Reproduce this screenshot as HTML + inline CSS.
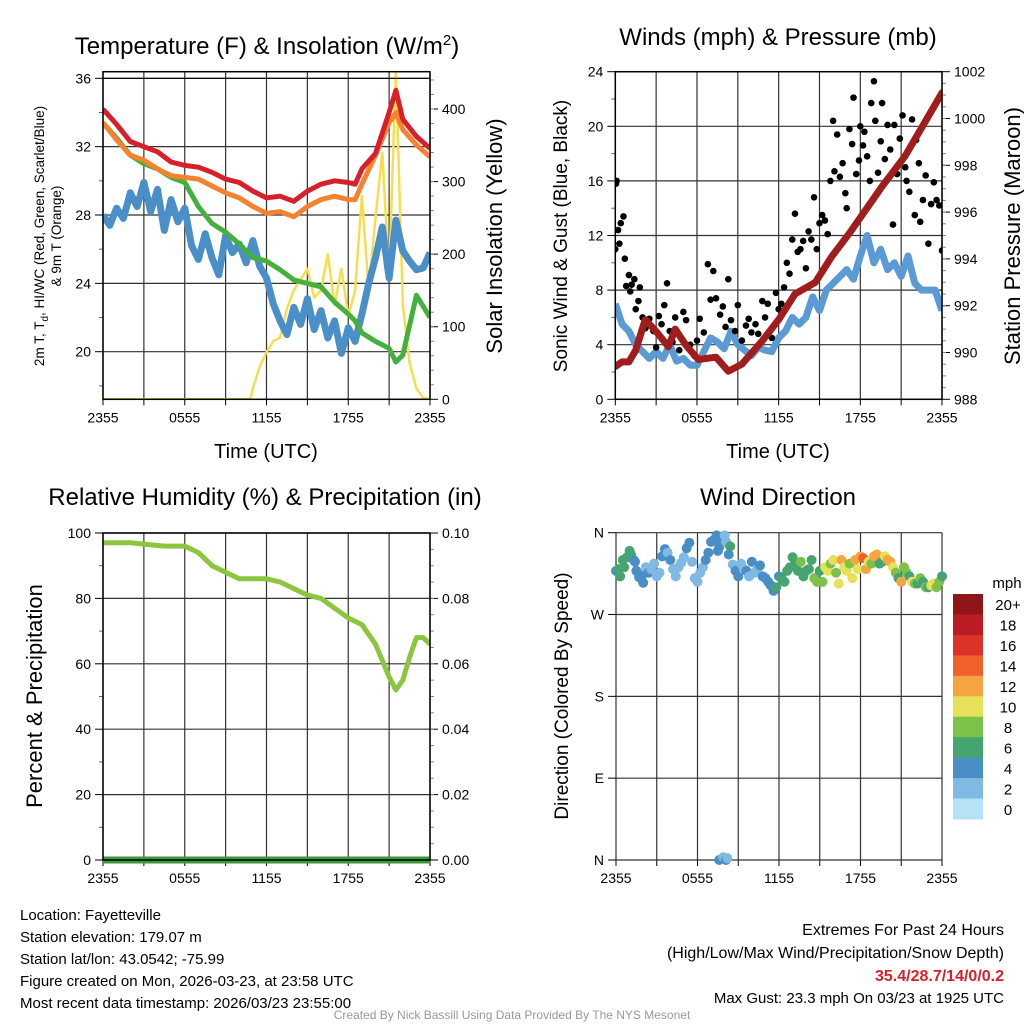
<!DOCTYPE html>
<html><head><meta charset="utf-8"><style>
html,body{margin:0;padding:0;background:#fff;}
svg{display:block;font-family:"Liberation Sans",Arial,sans-serif;}
</style></head><body>
<svg id="fig" width="1024" height="1024" viewBox="0 0 1024 1024"></svg>
<script>
// ---------- DATA ----------
const xTickLabels = ["2355","0555","1155","1755","2355"];
// Panel 1: temperature (F), hours since 2355
const tempHours = [0,1,2,3,4,5,6,7,8,9,10,11,12,13,14,15,16,17,18,18.5,19,20,21,21.5,22,23,24];
const redT = [34.2,33.3,32.3,32.0,31.7,31.1,30.9,30.8,30.5,30.1,29.9,29.4,29.0,29.1,28.8,29.4,29.8,30.0,29.9,29.8,30.7,31.6,34.0,35.3,33.6,32.6,31.9];
const orangeT = [33.4,32.4,31.5,31.2,30.7,30.3,30.2,30.1,29.7,29.3,29.0,28.5,28.1,28.2,27.9,28.5,28.9,29.1,28.9,28.9,29.8,31.5,33.4,34.0,33.0,32.1,31.4];
const greenT = [33.4,32.5,31.5,31.0,30.7,30.2,29.9,28.5,27.5,27.0,26.3,25.5,25.3,24.8,24.2,24.0,23.8,22.9,22.2,21.8,21.1,20.6,20.2,19.4,19.8,23.3,22.0];
const dewHours = [0,0.5,1,1.5,2,2.5,3,3.5,4,4.5,5,5.5,6,6.5,7,7.5,8,8.5,9,9.5,10,10.5,11,11.5,12,12.5,13,13.5,14,14.5,15,15.5,16,16.5,17,17.5,18,18.5,19,19.5,20,20.5,21,21.5,22,22.5,23,23.5,24];
const blueT = [28.0,27.4,28.4,27.8,29.3,28.5,29.9,28.2,29.5,27.1,28.9,27.6,28.4,26.2,25.4,26.9,25.5,24.5,26.8,25.8,26.3,25.2,26.5,25.0,24.3,22.8,21.8,21.0,22.6,21.6,23.1,21.3,22.4,20.8,21.8,19.9,21.4,20.6,22.2,24.0,25.5,27.3,24.3,27.7,25.9,25.3,24.8,24.9,25.8];
const solarHours = [0,10.8,11,11.5,12,12.5,13,13.5,14,14.5,15,15.5,16,16.5,17,17.5,18,18.5,19,19.5,20,20.5,21,21.5,22,22.5,23,23.5,24];
const solar = [0,0,15,45,65,80,85,125,150,165,180,140,150,200,130,180,115,150,280,150,250,340,170,455,130,50,15,2,0];
// Panel 2: winds & pressure
const windHours = dewHours;
const sustained = [7.0,5.5,5.0,4.0,3.5,3.0,3.5,3.0,4.0,2.8,3.0,2.5,2.5,3.5,4.5,4.2,3.7,5.0,4.0,3.6,3.2,3.8,3.6,3.5,4.5,5.0,6.0,5.5,6.0,7.5,6.5,8.0,8.5,9.0,9.5,8.8,10.5,12.0,10.0,11.0,9.5,10.0,9.0,10.5,8.5,8.0,8.0,8.0,6.5];
const gustHours = [0,0.05,0.1,0.2,0.3,0.4,0.6,0.7,0.8,1.0,1.1,1.2,1.4,1.5,1.7,1.8,2.0,2.2,2.5,2.8,3.0,3.2,3.4,3.6,3.8,4.0,4.2,4.4,4.7,5.0,5.2,5.5,5.8,6.0,6.2,6.5,6.8,7.0,7.2,7.4,7.7,7.9,8.1,8.3,8.5,8.8,9.0,9.3,9.6,9.8,10.0,10.3,10.5,10.8,11.0,11.2,11.5,11.8,12.0,12.2,12.4,12.6,12.8,13.0,13.2,13.4,13.6,13.8,14.0,14.2,14.4,14.6,14.8,15.0,15.2,15.4,15.6,15.8,16.0,16.1,16.3,16.5,16.7,16.9,17.0,17.2,17.4,17.5,17.7,17.9,18.0,18.2,18.3,18.5,18.7,18.8,19.0,19.1,19.3,19.5,19.6,19.8,20.0,20.2,20.4,20.5,20.7,20.9,21.1,21.3,21.4,21.6,21.8,22.0,22.1,22.3,22.4,22.6,22.8,23.0,23.2,23.4,23.6,23.8,24.0];
const gusts = [11,15.8,16,12.4,11.4,12.9,13.4,10.3,8.3,9.1,7.9,8.4,8.8,6.6,7.2,8.2,6.0,5.2,5.9,5.0,3.8,6.1,5.5,6.9,8.5,5.0,4.2,6.0,3.6,6.4,5.8,4.0,3.2,4.3,5.9,4.9,9.9,7.3,9.4,7.4,6.2,6.8,5.3,8.8,5.8,5.0,6.9,4.3,5.4,5.9,4.9,5.5,4.8,7.2,6.0,7.0,4.5,7.8,6.6,7.0,8.2,10.0,9.2,11.7,13.6,10.8,11.0,11.6,9.6,12.3,11.7,14.8,11.0,12.9,13.5,13.1,12.1,16.0,20.4,16.7,19.4,16.3,17.3,15.1,14.0,19.8,18.7,22.1,16.5,17.5,20.0,18.6,19.6,17.8,16.0,21.7,23.3,20.4,16.6,18.9,21.7,17.6,20.1,18.3,12.8,20.1,16.5,19.1,20.8,17.0,16.0,15.2,20.5,13.5,19.0,17.3,13.0,14.6,16.4,11.4,14.3,15.9,14.6,14.2,10.9];
const presHours = [0,0.5,1,1.5,2.2,3.0,3.9,4.4,5.2,6.1,7.4,8.3,9.3,10.8,12,13.2,14.7,15.9,17.2,18.4,19.6,21.3,22.8,24];
const pressure = [989.4,989.6,989.6,990.1,991.4,990.9,990.25,991.0,990.3,989.7,989.8,989.2,989.5,990.5,991.4,992.5,993.0,994.1,995.1,996.1,997.1,998.4,999.9,1001.1];
// Panel 3: RH & precip
const rhHours = [0,2,4.5,6,7,8,9,10,11,12,13,14,15,16,17,18,19,20,20.5,21,21.5,22,22.5,23,23.5,24];
const rh = [97,97,96,96,94,90,88,86,86,86,85,83,81,80,77,74,72,66,61,56,52,55,62,68,68,66];
const precipHours = [0,24];
const precip = [0,0];
// Panel 4: wind direction (deg) and speed (mph)
const dirHours = [0,0.2,0.3,0.5,0.6,0.8,1.0,1.1,1.3,1.4,1.5,1.7,1.9,2.0,2.2,2.4,2.6,2.8,3.0,3.2,3.4,3.6,3.8,4.0,4.2,4.4,4.6,4.8,5.0,5.2,5.4,5.6,5.8,6.0,6.2,6.4,6.6,6.8,7.0,7.2,7.4,7.5,7.6,7.8,8.0,8.1,8.3,8.4,8.6,8.8,9.0,9.2,9.4,9.6,9.8,10.0,10.2,10.4,10.6,10.8,11.0,11.2,11.4,11.6,11.8,12.0,12.2,12.4,12.6,12.8,13.0,13.2,13.4,13.6,13.8,14.0,14.2,14.4,14.6,14.8,15.0,15.2,15.4,15.6,15.8,16.0,16.2,16.4,16.6,16.8,17.0,17.2,17.4,17.6,17.8,18.0,18.2,18.4,18.6,18.8,19.0,19.2,19.4,19.6,19.8,20.0,20.2,20.4,20.6,20.8,21.0,21.2,21.4,21.6,21.8,22.0,22.2,22.4,22.6,22.8,23.0,23.2,23.4,23.6,23.8,24.0,7.6,7.9,8.1,8.2];
const dirDeg = [318,320,312,330,322,333,340,336,330,328,318,311,313,305,322,316,320,326,312,316,334,342,338,330,320,312,322,327,333,343,349,328,310,306,316,322,330,338,350,352,357,340,344,350,357,350,336,345,325,318,312,326,320,318,312,328,316,320,324,312,310,306,302,296,300,312,310,306,318,322,333,326,318,328,312,318,320,330,310,306,318,306,322,318,326,330,316,304,330,322,318,326,310,330,320,334,332,320,328,326,334,336,326,328,334,330,328,322,316,310,306,322,316,312,306,304,304,310,306,300,300,302,304,300,306,312,0,3,0,2];
const dirSpeed = [5,7,7,7,7,6,7,7,4,4,4,4,4,4,3,4,3,3,3,2,4,4,3,4,2,2,2,2,2,4,4,2,2,2,2,3,4,4,4,4,4,4,4,4,3,2,4,6,3,4,4,2,3,4,3,4,2,3,4,4,4,4,4,4,6,5,6,6,6,6,6,6,6,8,6,6,6,6,8,8,6,9,10,10,8,10,8,10,12,10,10,8,10,12,10,12,14,12,10,8,12,12,6,6,10,12,12,10,8,6,12,8,8,6,10,8,6,8,6,8,6,10,10,8,8,6,4,2,4,2];
const cbarLabels = ["20+","18","16","14","12","10","8","6","4","2","0"];
const cbarColors = ["#8f1519","#bb1c24","#dd3228","#f0602b","#f5a442","#e6e159","#7cc24a","#46a471","#4a8ec6","#80b9e4","#b5e2f6"];

// ---------- DRAWING ----------
const NS="http://www.w3.org/2000/svg";
const svg=document.getElementById('fig');
function mk(tag,attrs,parent){const e=document.createElementNS(NS,tag);for(const k in attrs)e.setAttribute(k,attrs[k]);(parent||svg).appendChild(e);return e;}
function txt(s,x,y,size,anchor,parent,extra){const e=mk('text',Object.assign({x:x,y:y,'font-size':size,'text-anchor':anchor||'middle',fill:'#000'},extra||{}),parent);e.textContent=s;return e;}
function lin(d0,d1,r0,r1){return v=>r0+(v-d0)*(r1-r0)/(d1-d0);}
function pathFrom(xs,ys,sx,sy){return xs.map((h,i)=>(i?'L':'M')+sx(h).toFixed(1)+','+sy(ys[i]).toFixed(1)).join(' ');}

function frame(g,L,R,T,B,sx){
  for(let h=0;h<=24;h+=3){
    const l=mk('line',{x1:sx(h),x2:sx(h),y1:T,y2:B,stroke:'#333','stroke-width':1.2},g);
    
    
    mk('line',{x1:sx(h),x2:sx(h),y1:B,y2:B+6,stroke:'#000','stroke-width':1},g);
  }
  xTickLabels.forEach((s,i)=>{
    const t=txt(s,sx(i*6),B+23,14,'middle',g);
    
    
  });
}
function leftAxis(g,L,R,ticks,sy,labels,minor,grid){
  ticks.forEach((v,i)=>{
    const y=sy(v);
    if(grid)mk('line',{x1:L,x2:R,y1:y,y2:y,stroke:'#333','stroke-width':1.2},g);
    mk('line',{x1:L-8,x2:L,y1:y,y2:y,stroke:'#000','stroke-width':1},g);
    const t=txt(labels[i],L-12,y+5,14,'end',g);
    
    
  });
  (minor||[]).forEach(v=>{const y=sy(v);mk('line',{x1:L-4,x2:L,y1:y,y2:y,stroke:'#666','stroke-width':1},g);});
}
function rightAxis(g,R,ticks,sy,labels,minor){
  ticks.forEach((v,i)=>{
    const y=sy(v);
    mk('line',{x1:R,x2:R+8,y1:y,y2:y,stroke:'#000','stroke-width':1},g);
    const t=txt(labels[i],R+12,y+5,14,'start',g);
    
    
  });
  (minor||[]).forEach(v=>{const y=sy(v);mk('line',{x1:R,x2:R+4,y1:y,y2:y,stroke:'#888','stroke-width':1},g);});
}
function rng(a,b,s){const r=[];for(let v=a;v<=b+1e-9;v+=s)r.push(+v.toFixed(3));return r;}

// ===== Panel 1 =====
{
  const g=mk('g',{});
  const L=103,R=430,T=71.7,B=399.3;
  const sx=lin(0,24,L,R), sy=lin(20,36,351.7,78.3), sr=lin(0,400,399.3,109);
  const clip=mk('clipPath',{id:'c1'},g);mk('rect',{x:L,y:T,width:R-L,height:B-T},clip);
  frame(g,L,R,T,B,sx);
  leftAxis(g,L,R,[20,24,28,32,36],sy,["20","24","28","32","36"],[18,22,26,30,34],true);
  rightAxis(g,R,[0,100,200,300,400],sr,["0","100","200","300","400"],rng(20,440,20));
  const d=mk('g',{'clip-path':'url(#c1)'},g);
  const ys=mk('path',{d:pathFrom(solarHours,solar,sx,sr),fill:'none',stroke:'#f7de4f','stroke-width':2.5,'stroke-linejoin':'round'},d);
  
  const bl=mk('path',{d:pathFrom(dewHours,blueT,sx,sy),fill:'none',stroke:'#4b8fc8','stroke-width':7,'stroke-linejoin':'round'},d);
  
  const gr=mk('path',{d:pathFrom(tempHours,greenT,sx,sy),fill:'none',stroke:'#45b03c','stroke-width':5,'stroke-linejoin':'round'},d);
  
  const or=mk('path',{d:pathFrom(tempHours,orangeT,sx,sy),fill:'none',stroke:'#f5822f','stroke-width':5,'stroke-linejoin':'round'},d);
  
  const rd=mk('path',{d:pathFrom(tempHours,redT,sx,sy),fill:'none',stroke:'#d7202a','stroke-width':5,'stroke-linejoin':'round'},d);
  
  mk('rect',{x:L,y:T,width:R-L,height:B-T,fill:'none',stroke:'#000','stroke-width':1.5},g);
  mk('line',{x1:L,x2:R,y1:78.3,y2:78.3,stroke:'#000','stroke-width':1.2},g);
  const ti=txt('',267,54,24,'middle',g);ti.innerHTML='Temperature (F) &amp; Insolation (W/m<tspan dy="-9" font-size="15">2</tspan><tspan dy="9">)</tspan>';
  
  const xt=txt('Time (UTC)',266,458,20,'middle',g);
  const yl=mk('text',{transform:'translate(44,236) rotate(-90)','font-size':13.5,'text-anchor':'middle'},g);
  yl.innerHTML='2m T, T<tspan dy="4" font-size="10">d</tspan><tspan dy="-4">, HI/WC (Red, Green, Scarlet/Blue)</tspan>';
  
  const yl2=txt('& 9m T (Orange)',0,0,13.5,'middle',g,{transform:'translate(61,236) rotate(-90)'});
  
  const yr=txt('Solar Insolation (Yellow)',0,0,22,'middle',g,{transform:'translate(502,236) rotate(-90)'});
  
}

// ===== Panel 2 =====
{
  const g=mk('g',{});
  const L=615.3,R=942,T=71.7,B=399.3;
  const sx=lin(0,24,L,R), sy=lin(0,24,B,T), sp=lin(988,1002,B,T);
  const clip=mk('clipPath',{id:'c2'},g);mk('rect',{x:L,y:T,width:R-L,height:B-T},clip);
  frame(g,L,R,T,B,sx);
  leftAxis(g,L,R,[0,4,8,12,16,20,24],sy,["0","4","8","12","16","20","24"],[2,6,10,14,18,22],true);
  rightAxis(g,R,rng(988,1002,2),sp,["988","990","992","994","996","998","1000","1002"],rng(988.5,1001.5,0.5));
  const d=mk('g',{'clip-path':'url(#c2)'},g);
  const bl=mk('path',{d:pathFrom(windHours,sustained,sx,sy),fill:'none',stroke:'#5b9bd5','stroke-width':7,'stroke-linejoin':'round'},d);
  
  gustHours.forEach((h,i)=>{
    const c=mk('circle',{cx:sx(h),cy:sy(gusts[i]),r:3.3,fill:'#000'},d);
    
    
  });
  const pr=mk('path',{d:pathFrom(presHours,pressure,sx,sp),fill:'none',stroke:'#a11d1d','stroke-width':7,'stroke-linejoin':'round','stroke-linecap':'round'},d);
  
  mk('rect',{x:L,y:T,width:R-L,height:B-T,fill:'none',stroke:'#000','stroke-width':1.5},g);
  const ti=txt('Winds (mph) & Pressure (mb)',778,45,24,'middle',g);
  const xt=txt('Time (UTC)',778,458,20,'middle',g);
  const yl=txt('Sonic Wind & Gust (Blue, Black)',0,0,19,'middle',g,{transform:'translate(567,236) rotate(-90)'});
  
  const yr=txt('Station Pressure (Maroon)',0,0,22,'middle',g,{transform:'translate(1020,236) rotate(-90)'});
  
}

// ===== Panel 3 =====
{
  const g=mk('g',{});
  const L=103,R=430,T=533,B=860;
  const sx=lin(0,24,L,R), sy=lin(0,100,B,T), spp=lin(0,0.1,B,T);
  const clip=mk('clipPath',{id:'c3'},g);mk('rect',{x:L,y:T-4,width:R-L,height:B-T+8},clip);
  frame(g,L,R,T,B,sx);
  leftAxis(g,L,R,[0,20,40,60,80,100],sy,["0","20","40","60","80","100"],[10,30,50,70,90],true);
  rightAxis(g,R,[0,0.02,0.04,0.06,0.08,0.1],spp,["0.00","0.02","0.04","0.06","0.08","0.10"],rng(0.005,0.095,0.005));
  const d=mk('g',{'clip-path':'url(#c3)'},g);
  const pp=mk('path',{d:pathFrom(precipHours,precip,sx,spp),fill:'none',stroke:'#3a9a3a','stroke-width':7},d);
  
  const rl=mk('path',{d:pathFrom(rhHours,rh,sx,sy),fill:'none',stroke:'#8cc63f','stroke-width':5,'stroke-linejoin':'round'},d);
  
  mk('rect',{x:L,y:T,width:R-L,height:B-T,fill:'none',stroke:'#000','stroke-width':1.5},g);
  const ti=txt('Relative Humidity (%) & Precipitation (in)',265,505,24,'middle',g);
  const yl=txt('Percent & Precipitation',0,0,22,'middle',g,{transform:'translate(42,696) rotate(-90)'});
  
}

// ===== Panel 4 =====
{
  const g=mk('g',{});
  const L=616,R=942,T=532.7,B=860;
  const sx=lin(0,24,L,R), sy=lin(0,360,B,T);
  frame(g,L,R,T,B,sx);
  leftAxis(g,L,R,[0,90,180,270,360],sy,["N","E","S","W","N"],[],true);
  const colorFor=s=>{let idx=Math.min(10,Math.floor(s/2));return cbarColors[10-idx];};
  dirHours.forEach((h,i)=>{
    const c=mk('circle',{cx:sx(h),cy:sy(dirDeg[i]),r:5,fill:colorFor(dirSpeed[i])},g);
    
    
  });
  const ti=txt('Wind Direction',778,505,24,'middle',g);
  const yl=txt('Direction (Colored By Speed)',0,0,19,'middle',g,{transform:'translate(568,696) rotate(-90)'});
  
  const cb=mk('g',{},g);
  const cy0=594, ch=(819-594)/11;
  cbarColors.forEach((c,i)=>{
    const r=mk('rect',{x:953,y:cy0+i*ch,width:30,height:ch+0.5,fill:c},cb);
    
    const t=txt(cbarLabels[i],1008,cy0+i*ch+ch/2+6,15,'middle',cb);
    
  });
  const u=txt('mph',1007,588,15,'middle',cb);
}

// ===== Footer text =====
{
  const g=mk('g',{'font-size':15});
  ["Location: Fayetteville","Station elevation: 179.07 m","Station lat/lon: 43.0542; -75.99","Figure created on Mon, 2026-03-23, at 23:58 UTC","Most recent data timestamp: 2026/03/23 23:55:00"].forEach((s,i)=>{
    const t=txt(s,20,920+i*22,15,'start',g);
  });
  const e1=txt('Extremes For Past 24 Hours',1004,935,16,'end');
  const e2=txt('(High/Low/Max Wind/Precipitation/Snow Depth)',1004,958,16,'end');
  const e3=txt('35.4/28.7/14/0/0.2',1004,981,16,'end',null,{fill:'#d7202a','font-weight':'bold'});
  const e4=txt('Max Gust: 23.3 mph On 03/23 at 1925 UTC',1004,1003,15,'end');
  const cr=txt('Created By Nick Bassill Using Data Provided By The NYS Mesonet',512,1019,12,'middle',null,{fill:'#999'});
}
</script>
</body></html>
